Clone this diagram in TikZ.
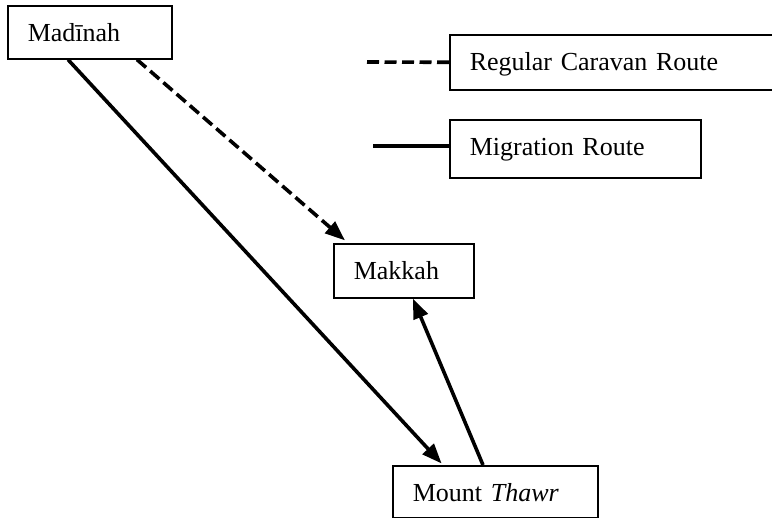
\documentclass[tikz,border=0pt]{standalone}
\usepackage{fontspec}
\setmainfont{Liberation Serif}
\usetikzlibrary{arrows.meta}
\begin{document}
\begin{tikzpicture}[x=1pt,y=-1pt,
  box/.style={draw,line width=1.6pt,anchor=north west,inner xsep=20pt,inner ysep=0pt,
    align=left,text height=36pt,font=\fontsize{26}{30}\selectfont},
  route/.style={line width=3.6pt},
  arr/.style={route,-{Triangle[length=20pt,width=15pt]}},
  caravan/.style={dash pattern=on 12pt off 5.5pt}]
\useasboundingbox (0,0) rectangle (772,518);
\clip (0,0) rectangle (772,518);
\fill[white] (0,0) rectangle (772,518);
\node[box,text width=124pt,text depth=17pt] (mad) at (7,5) {Madīnah};
\node[box,text width=100pt,text depth=18pt] (mak) at (333,243) {Makkah};
\node[box,text width=165pt,text depth=16pt] (thawr) at (392,465) {Mount \textit{Thawr}};
\node[box,text width=300pt,text depth=19pt] (reg) at (449,34) {Regular Caravan Route};
\node[box,text width=211pt,text depth=22pt] (mig) at (449,119) {Migration Route};
\coordinate (l1) at (367,62);
\coordinate (l2) at (373,146);
\draw[route,caravan] (l1) -- (reg.west);
\draw[route] (l2) -- (mig.west |- l2);
\draw[arr,shorten >=2pt] ([xshift=61pt]mad.south west) -- ([xshift=51pt]thawr.north west);
\draw[arr,caravan,shorten >=4pt] ([xshift=130pt]mad.south west) -- ([xshift=15pt]mak.north west);
\draw[arr] ([xshift=91pt]thawr.north west) -- ([xshift=80pt]mak.south west);
\end{tikzpicture}
\end{document}
